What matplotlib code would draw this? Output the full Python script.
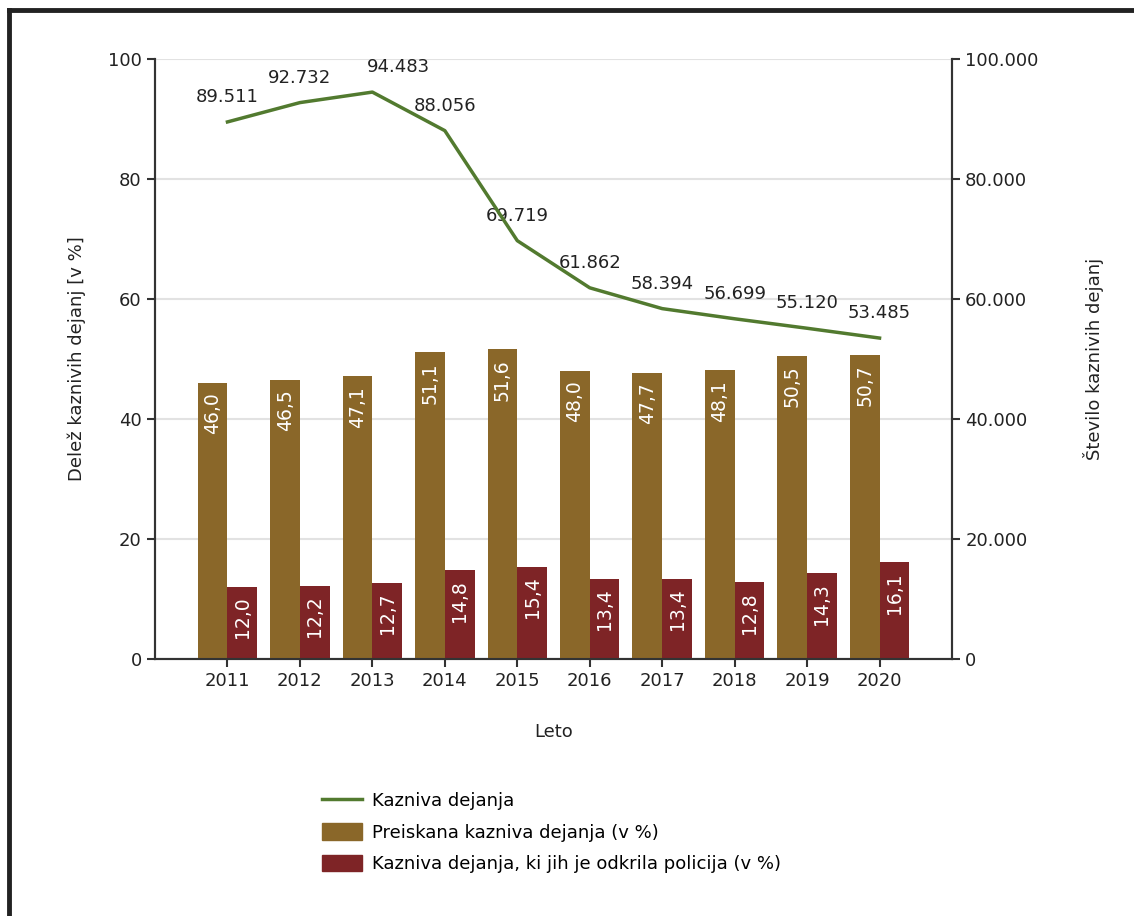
import matplotlib
matplotlib.use("Agg")
import matplotlib.pyplot as plt
from matplotlib.lines import Line2D
from matplotlib.patches import Patch
import numpy as np

# podatki
leta = ["2011", "2012", "2013", "2014", "2015", "2016", "2017", "2018", "2019", "2020"]
kazniva_dejanja = [89511, 92732, 94483, 88056, 69719, 61862, 58394, 56699, 55120, 53485]
preiskana = [46.0, 46.5, 47.1, 51.1, 51.6, 48.0, 47.7, 48.1, 50.5, 50.7]
odkrila_policija = [12.0, 12.2, 12.7, 14.8, 15.4, 13.4, 13.4, 12.8, 14.3, 16.1]

c_line = "#527a2f"
c_gold = "#8a6729"
c_red = "#7e2426"
c_text = "#222222"

plt.rcParams["font.family"] = "DejaVu Sans"
plt.rcParams["font.size"] = 13

fig = plt.figure(figsize=(11.34, 9.16), dpi=100)
ax = fig.add_axes([0.1367, 0.2806, 0.7028, 0.655])
ax2 = ax.twinx()

x = np.arange(len(leta))
w = 0.41

b1 = ax.bar(x - w / 2, preiskana, w, color=c_gold, zorder=3)
b2 = ax.bar(x + w / 2, odkrila_policija, w, color=c_red, zorder=3)

for bars, vals in ((b1, preiskana), (b2, odkrila_policija)):
    for r, v in zip(bars, vals):
        ax.annotate(f"{v:.1f}".replace(".", ","),
                    (r.get_x() + r.get_width() / 2, r.get_height()),
                    xytext=(0, -7), textcoords="offset points",
                    rotation=90, ha="center", va="top",
                    color="white", fontsize=13.5, zorder=4)

ax2.plot(x, kazniva_dejanja, color=c_line, lw=2.5, zorder=5)
for i, v in enumerate(kazniva_dejanja):
    dx = 19 if leta[i] == "2013" else 0
    ax2.annotate(f"{v:,}".replace(",", "."), (x[i], v),
                 xytext=(dx, 18), textcoords="offset points",
                 ha="center", va="center", color=c_text, fontsize=13)

ax.set_xlim(-1, 10)
ax.set_ylim(0, 100)
ax2.set_ylim(0, 100000)
ax.set_yticks(range(0, 101, 20))
ax2.set_yticks(range(0, 100001, 20000))
ax2.set_yticklabels([f"{t:,}".replace(",", ".") for t in range(0, 100001, 20000)])
ax.set_xticks(x)
ax.set_xticklabels(leta)

ax.grid(axis="y", color="#e2e2e2", lw=1.5, zorder=0)
ax.set_axisbelow(True)
ax.set_zorder(ax2.get_zorder() - 1)
ax2.patch.set_visible(False)

for a in (ax, ax2):
    a.spines["top"].set_visible(False)
    for s in ("left", "bottom", "right"):
        a.spines[s].set_color("#333333")
        a.spines[s].set_linewidth(1.5)
    a.tick_params(colors="#333333", labelcolor=c_text, length=6, width=1.5, labelsize=13)

ax.set_xlabel("Leto", fontsize=13, color=c_text, labelpad=24)
ax.set_ylabel("Delež kaznivih dejanj [v %]", fontsize=13, color=c_text, labelpad=16)
ax2.set_ylabel("Število kaznivih dejanj", fontsize=13, color=c_text, labelpad=32)

handles = [Line2D([], [], color=c_line, lw=2.5),
           Patch(color=c_gold), Patch(color=c_red)]
labels = ["Kazniva dejanja", "Preiskana kazniva dejanja (v %)",
          "Kazniva dejanja, ki jih je odkrila policija (v %)"]
fig.legend(handles, labels, loc="upper left", bbox_to_anchor=(0.2775, 0.143),
           frameon=False, fontsize=13, handlelength=2.2, handleheight=1.0,
           labelspacing=0.72, handletextpad=0.55, borderaxespad=0)

# okvir
fig.add_artist(Line2D([9 / 1134, 9 / 1134], [0, 1 - 10 / 916], color="#222222", lw=3.5))
fig.add_artist(Line2D([9 / 1134, 1], [1 - 10 / 916, 1 - 10 / 916], color="#222222", lw=3.5))

fig.savefig("out.png", dpi=100, facecolor="white")
